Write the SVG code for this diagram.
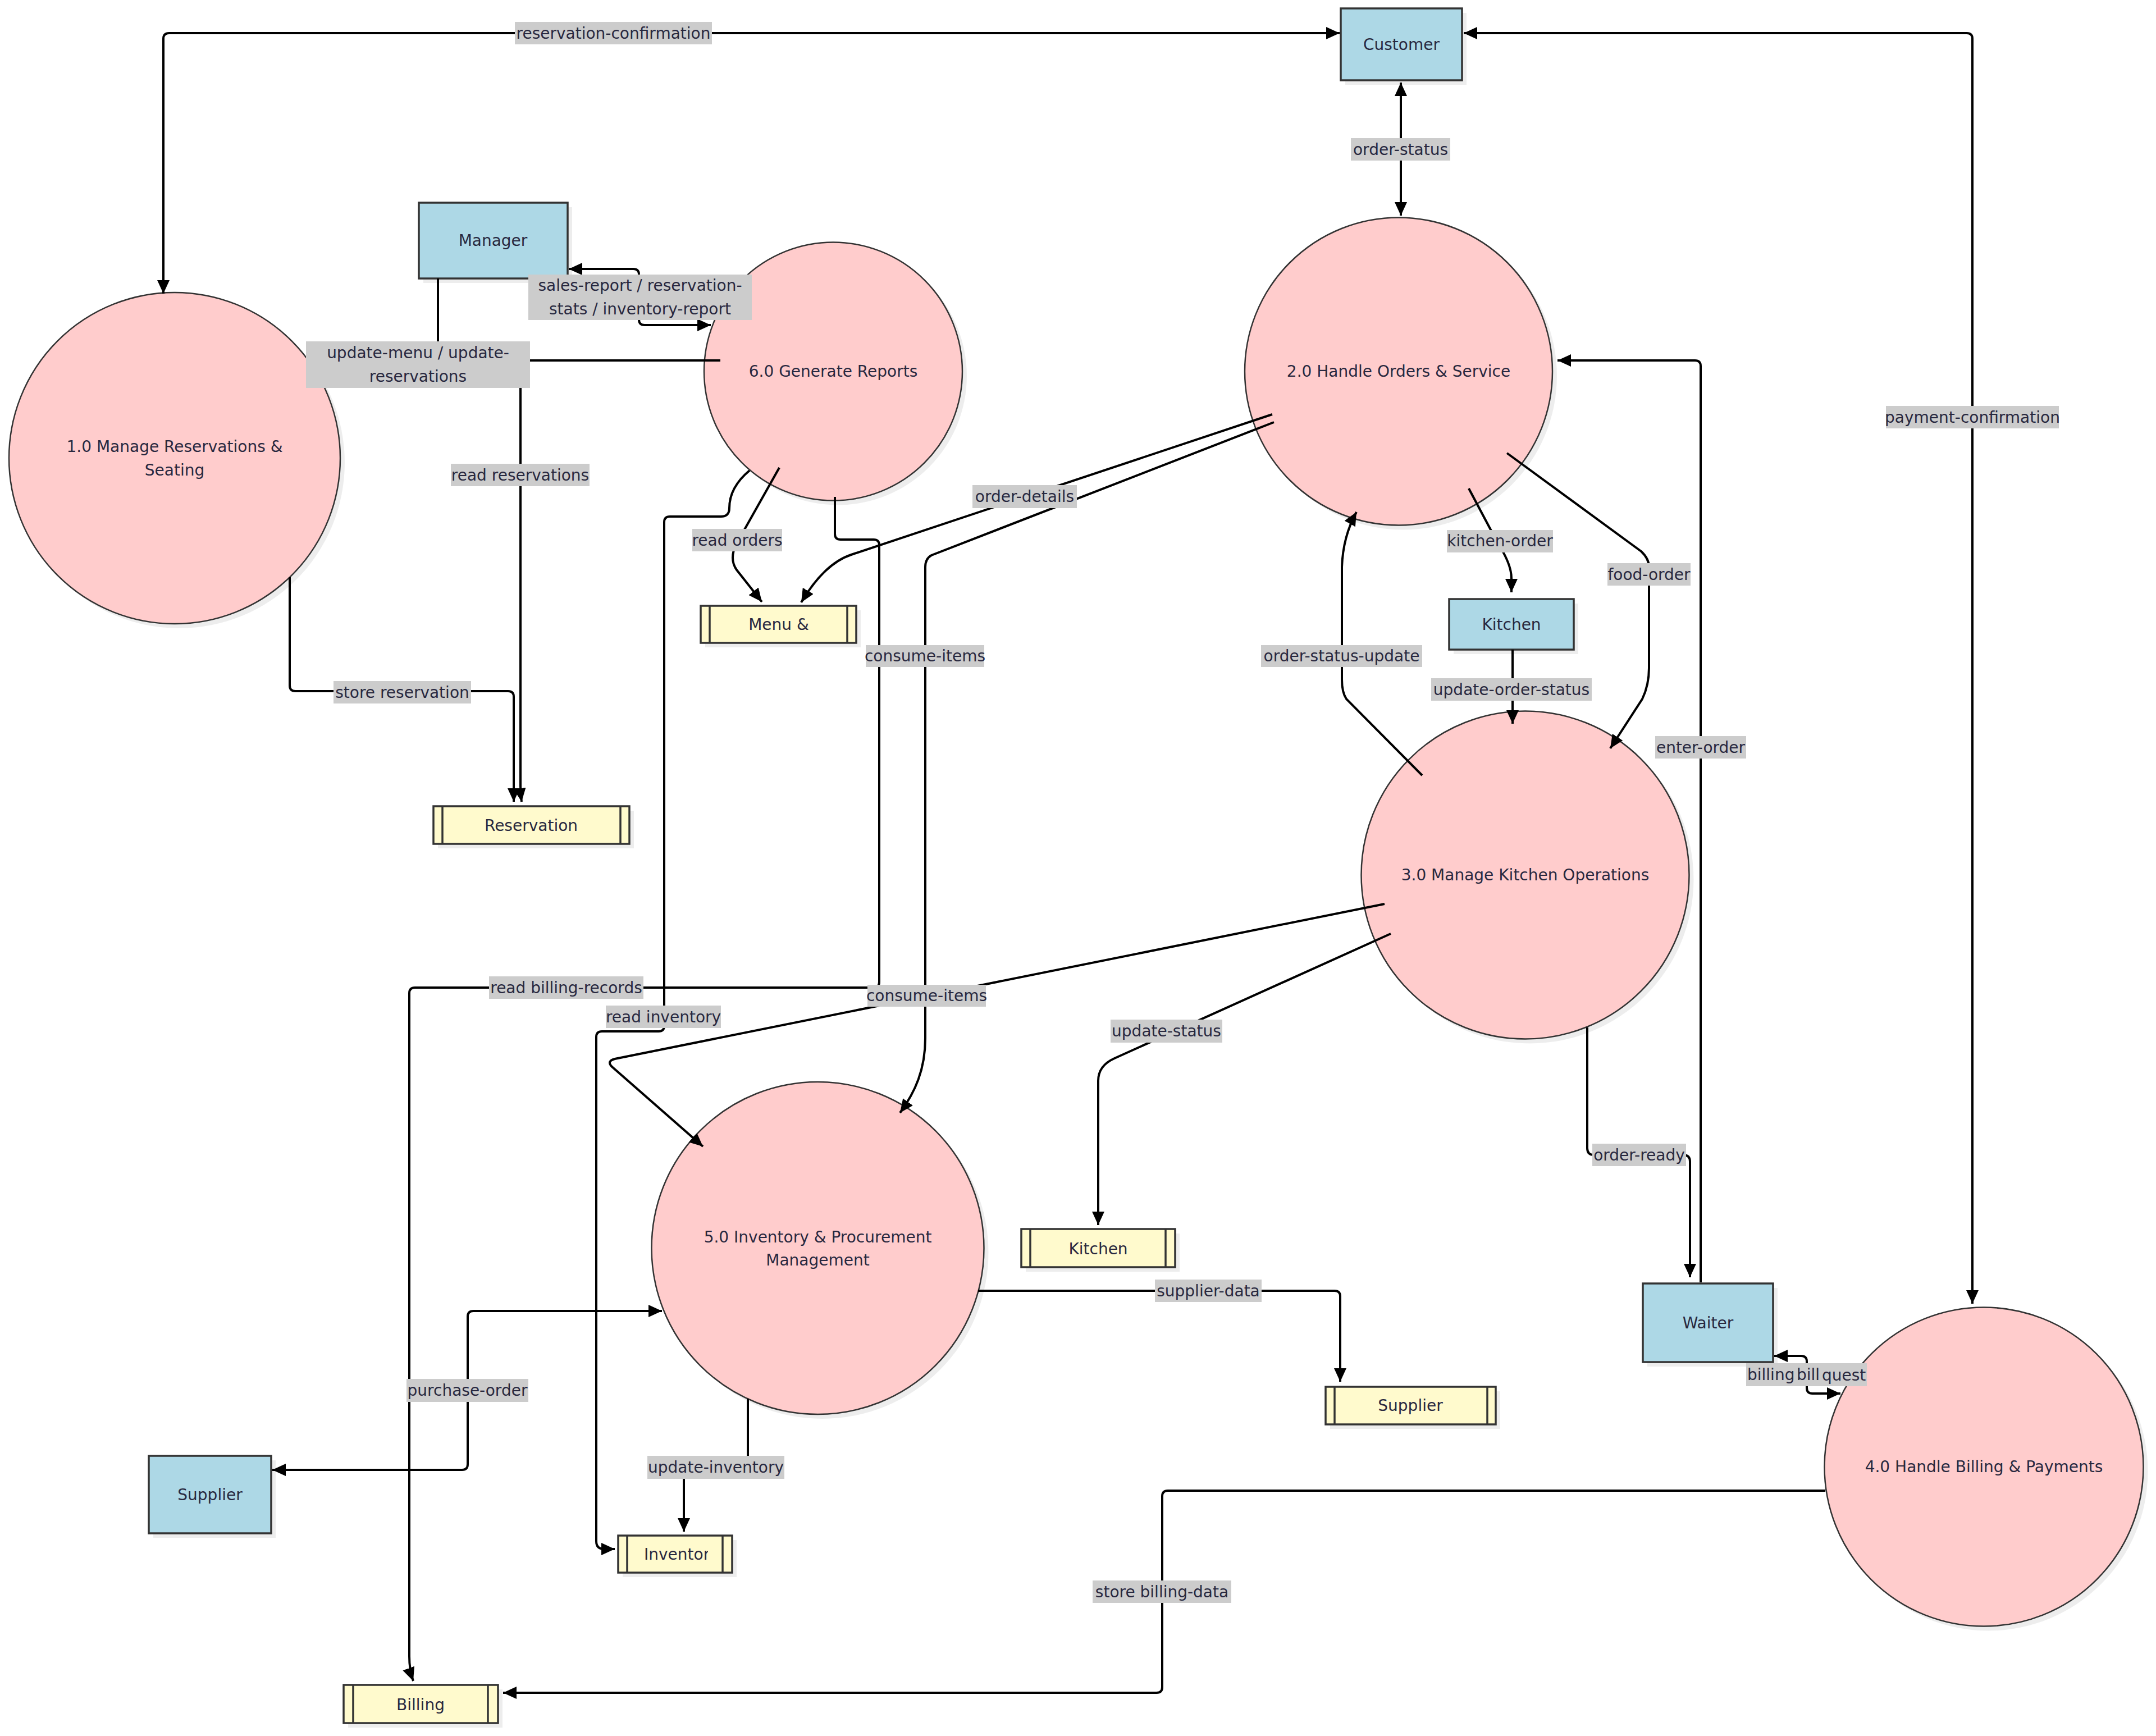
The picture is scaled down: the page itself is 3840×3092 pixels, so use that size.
<svg xmlns="http://www.w3.org/2000/svg" width="3840" height="3092" viewBox="0 0 3840 3092">
<style>
text{font-family:"DejaVu Sans","Liberation Sans",sans-serif;font-size:28px;fill:#28283f;text-anchor:middle;dominant-baseline:central}
.proc{fill:#ffcccc;stroke:#333;stroke-width:2.5}
.ent{fill:#add8e6;stroke:#333;stroke-width:3.5}
.store{fill:#fffacd;stroke:#333;stroke-width:3.5}
.sl{stroke:#333;stroke-width:3.5}
.sh{fill:#000;fill-opacity:0.07;stroke:none}
.edge{fill:none;stroke:#000;stroke-width:4;marker-end:url(#arr)}
.bi{marker-start:url(#arr)}
.lbl rect{fill:#cccccc}
.st{text-anchor:start}
</style>
<defs>
<marker id="arr" viewBox="0 0 24 22" refX="24" refY="11" markerWidth="24" markerHeight="22" markerUnits="userSpaceOnUse" orient="auto-start-reverse"><path d="M0,0 L24,11 L0,22 z" fill="#000"/></marker>
<clipPath id="invclip"><rect x="1118" y="2737" width="143" height="62"/></clipPath>
</defs>
<rect x="0" y="0" width="3840" height="3092" fill="#ffffff"/>

<g id="nodes">
<g id="customer"><rect class="sh" x="2396" y="23" width="216" height="128"/><rect class="ent" x="2388" y="15" width="216" height="128"/><text x="2496" y="79">Customer</text></g>
<g id="manager"><rect class="sh" x="754" y="369" width="265" height="135"/><rect class="ent" x="746" y="361" width="265" height="135"/><text x="878" y="428">Manager</text></g>
<g id="kitchen"><rect class="sh" x="2589" y="1075" width="222" height="90"/><rect class="ent" x="2581" y="1067" width="222" height="90"/><text x="2692" y="1112">Kitchen</text></g>
<g id="waiter"><rect class="sh" x="2934" y="2294" width="232" height="140"/><rect class="ent" x="2926" y="2286" width="232" height="140"/><text x="3042" y="2356">Waiter</text></g>
<g id="supplier"><rect class="sh" x="273" y="2601" width="218" height="138"/><rect class="ent" x="265" y="2593" width="218" height="138"/><text x="374" y="2662">Supplier</text></g>

<g id="p1"><circle class="sh" cx="319" cy="824" r="295"/><circle class="proc" cx="311" cy="816" r="295"/><text x="311" y="795.5">1.0 Manage Reservations &amp;</text><text x="311" y="837.6">Seating</text></g>
<g id="p6"><circle class="sh" cx="1492" cy="669.5" r="230"/><circle class="proc" cx="1484" cy="661.5" r="230"/><text x="1484" y="661.5">6.0 Generate Reports</text></g>
<g id="p2"><circle class="sh" cx="2499" cy="669.5" r="274"/><circle class="proc" cx="2491" cy="661.5" r="274"/><text x="2491" y="661.5">2.0 Handle Orders &amp; Service</text></g>
<g id="p3"><circle class="sh" cx="2724.5" cy="1566.5" r="292"/><circle class="proc" cx="2716.5" cy="1558.5" r="292"/><text x="2716.5" y="1558.5">3.0 Manage Kitchen Operations</text></g>
<g id="p5"><circle class="sh" cx="1464.5" cy="2231" r="296"/><circle class="proc" cx="1456.5" cy="2223" r="296"/><text x="1456.5" y="2203">5.0 Inventory &amp; Procurement</text><text x="1456.5" y="2244">Management</text></g>
<g id="p4"><circle class="sh" cx="3541.5" cy="2620.5" r="284"/><circle class="proc" cx="3533.5" cy="2612.5" r="284"/><text x="3533.5" y="2612">4.0 Handle Billing &amp; Payments</text></g>

<g id="ds-reservation"><rect class="sh" x="780" y="1444" width="349" height="67"/><rect class="store" x="772" y="1436" width="349" height="67"/><line class="sl" x1="788" y1="1436" x2="788" y2="1503"/><line class="sl" x1="1105" y1="1436" x2="1105" y2="1503"/><text x="946" y="1470">Reservation</text></g>
<g id="ds-menu"><rect class="sh" x="1256" y="1087" width="277" height="66"/><rect class="store" x="1248" y="1079" width="277" height="66"/><line class="sl" x1="1264" y1="1079" x2="1264" y2="1145"/><line class="sl" x1="1509" y1="1079" x2="1509" y2="1145"/><text x="1387" y="1112">Menu &amp;</text></g>
<g id="ds-kitchen"><rect class="sh" x="1827" y="2197" width="274" height="68"/><rect class="store" x="1819" y="2189" width="274" height="68"/><line class="sl" x1="1835" y1="2189" x2="1835" y2="2257"/><line class="sl" x1="2076" y1="2189" x2="2076" y2="2257"/><text x="1956" y="2224">Kitchen</text></g>
<g id="ds-supplier"><rect class="sh" x="2369" y="2478" width="303" height="67"/><rect class="store" x="2361" y="2470" width="303" height="67"/><line class="sl" x1="2377" y1="2470" x2="2377" y2="2537"/><line class="sl" x1="2649" y1="2470" x2="2649" y2="2537"/><text x="2512" y="2503">Supplier</text></g>
<g id="ds-inventory"><rect class="sh" x="1109" y="2743" width="203" height="66"/><rect class="store" x="1101" y="2735" width="203" height="66"/><line class="sl" x1="1117" y1="2735" x2="1117" y2="2801"/><line class="sl" x1="1287" y1="2735" x2="1287" y2="2801"/><text class="st" x="1147" y="2768" clip-path="url(#invclip)">Inventory</text></g>
<g id="ds-billing"><rect class="sh" x="620" y="3009" width="275" height="68"/><rect class="store" x="612" y="3001" width="275" height="68"/><line class="sl" x1="629" y1="3001" x2="629" y2="3069"/><line class="sl" x1="869" y1="3001" x2="869" y2="3069"/><text x="749" y="3036">Billing</text></g>
</g>

<g id="connectors">
<path class="edge bi" d="M291,523 L291,69 Q291,59 301,59 L2386,59"/>
<path class="edge bi" d="M2495,147 L2495,384"/>
<path class="edge bi" d="M2607,59 L3503,59 Q3513,59 3513,69 L3513,2322"/>
<path class="edge bi" d="M1013,479 L1128,479 Q1138,479 1138,489 L1138,569 Q1138,579 1148,579 L1266,579"/>
<path class="edge" d="M780,496 L780,630 Q780,646 764,647 L556,656"/>
<path class="edge" d="M1283,642 L937,642 Q927,642 927,652 L927,1400 Q927,1414 929,1428"/>
<path class="edge" d="M516,1028 L516,1221 Q516,1231 526,1231 L905,1231 Q915,1231 915,1241 L915,1428"/>
<path class="edge" d="M1388,833 L1312,968 Q1298,995 1312,1015 L1357,1072"/>
<path class="edge" d="M1335,838 Q1299,868 1299,905 Q1299,920 1284,920 L1193,920 Q1183,920 1183,930 L1183,1827 Q1183,1837 1173,1837 L1072,1837 Q1062,1837 1062,1847 L1062,2745 Q1062,2759 1076,2759 L1095,2759"/>
<path class="edge" d="M1487,885 L1487,951 Q1487,961 1497,961 L1556,961 Q1566,961 1566,971 L1566,1749 Q1566,1759 1556,1759 L739,1759 Q729,1759 729,1769 L729,2950 Q729,2975 736,2994"/>
<path class="edge" d="M2266,738 L1516,988 Q1468,1004 1427,1073"/>
<path class="edge" d="M2269,752 L1659,989 Q1648,995 1648,1010 L1648,1849 C1648,1905 1630,1945 1603,1982"/>
<path class="edge" d="M2533,1381 L2398,1245 Q2390,1233 2390,1210 L2390,1010 Q2392,955 2416,912"/>
<path class="edge" d="M2616,870 L2668,968 Q2692,1005 2692,1030 L2692,1055"/>
<path class="edge" d="M2684,807 L2923,982 Q2937,995 2937,1010 L2937,1190 Q2937,1220 2925,1245 L2868,1333"/>
<path class="edge" d="M2694,1157 L2694,1289"/>
<path class="edge" d="M3029,2284 L3029,652 Q3029,642 3019,642 L2774,642"/>
<path class="edge" d="M2477,1663 L1985,1885 Q1956,1898 1956,1925 L1956,2182"/>
<path class="edge" d="M2466,1610 L1095,1886 Q1080,1890 1090,1900 L1252,2042"/>
<path class="edge" d="M2827,1830 L2827,2045 Q2827,2057 2839,2057 L2998,2057 Q3010,2057 3010,2069 L3010,2275"/>
<path class="edge bi" d="M3160,2415 L3208,2415 Q3218,2415 3218,2425 L3218,2472 Q3218,2482 3228,2482 L3278,2482"/>
<path class="edge" d="M3251,2655 L2080,2655 Q2070,2655 2070,2665 L2070,3005 Q2070,3015 2060,3015 L896,3015"/>
<path class="edge" d="M1332,2491 L1332,2600 L1218,2625 L1218,2728"/>
<path class="edge" d="M1742,2299 L2377,2299 Q2387,2299 2387,2309 L2387,2461"/>
<path class="edge bi" d="M485,2618 L823,2618 Q833,2618 833,2608 L833,2345 Q833,2335 843,2335 L1179,2335"/>
</g>

<g id="edge-labels">
<g class="lbl"><rect x="917" y="39" width="351" height="40"/><text x="1092.5" y="59">reservation-confirmation</text></g>
<g class="lbl"><rect x="2406" y="246" width="177" height="40"/><text x="2494.5" y="266">order-status</text></g>
<g class="lbl"><rect x="3359" y="723" width="308" height="40"/><text x="3513" y="743">payment-confirmation</text></g>
<g class="lbl"><rect x="941" y="489" width="398" height="81"/><text x="1140" y="508.6">sales-report / reservation-</text><text x="1140" y="550.7">stats / inventory-report</text></g>
<g class="lbl"><rect x="545" y="608" width="399" height="83"/><text x="744.5" y="628.5">update-menu / update-</text><text x="744.5" y="670.6">reservations</text></g>
<g class="lbl"><rect x="803" y="826" width="247" height="40"/><text x="926.5" y="846">read reservations</text></g>
<g class="lbl"><rect x="1233" y="942" width="160" height="40"/><text x="1313" y="962">read orders</text></g>
<g class="lbl"><rect x="1732" y="864" width="186" height="41"/><text x="1825" y="884.5">order-details</text></g>
<g class="lbl"><rect x="1542" y="1149" width="211" height="39"/><text x="1647.5" y="1168.5">consume-items</text></g>
<g class="lbl"><rect x="2246" y="1149" width="287" height="39"/><text x="2389.5" y="1168.5">order-status-update</text></g>
<g class="lbl"><rect x="2577" y="944" width="189" height="40"/><text x="2671.5" y="963.5">kitchen-order</text></g>
<g class="lbl"><rect x="2863" y="1003" width="148" height="40"/><text x="2937" y="1023">food-order</text></g>
<g class="lbl"><rect x="2549" y="1208" width="286" height="40"/><text x="2692" y="1228">update-order-status</text></g>
<g class="lbl"><rect x="2948" y="1311" width="162" height="40"/><text x="3029" y="1331">enter-order</text></g>
<g class="lbl"><rect x="594" y="1213" width="245" height="40"/><text x="716.5" y="1233">store reservation</text></g>
<g class="lbl"><rect x="871" y="1739" width="275" height="40"/><text x="1008.5" y="1759">read billing-records</text></g>
<g class="lbl"><rect x="1079" y="1791" width="205" height="40"/><text x="1181.5" y="1811">read inventory</text></g>
<g class="lbl"><rect x="1545" y="1754" width="211" height="39"/><text x="1650.5" y="1773.5">consume-items</text></g>
<g class="lbl"><rect x="1978" y="1816" width="199" height="41"/><text x="2077.5" y="1836.5">update-status</text></g>
<g class="lbl"><rect x="2836" y="2037" width="167" height="40"/><text x="2919.5" y="2057">order-ready</text></g>
<g class="lbl"><rect x="2057" y="2279" width="190" height="40"/><text x="2152" y="2299">supplier-data</text></g>
<g class="lbl"><rect x="724" y="2456" width="217" height="41"/><text x="832.5" y="2476.5">purchase-order</text></g>
<g class="lbl"><rect x="1153" y="2593" width="244" height="41"/><text x="1275" y="2613.5">update-inventory</text></g>
<g class="lbl"><rect x="1946" y="2815" width="247" height="40"/><text x="2069.5" y="2835">store billing-data</text></g>
<g class="lbl"><rect x="3110" y="2428" width="215" height="41"/><text class="st" x="3112" y="2448.5">billing</text><text class="st" x="3200" y="2448.5">bill<tspan x="3245">quest</tspan></text></g>
</g>
</svg>
